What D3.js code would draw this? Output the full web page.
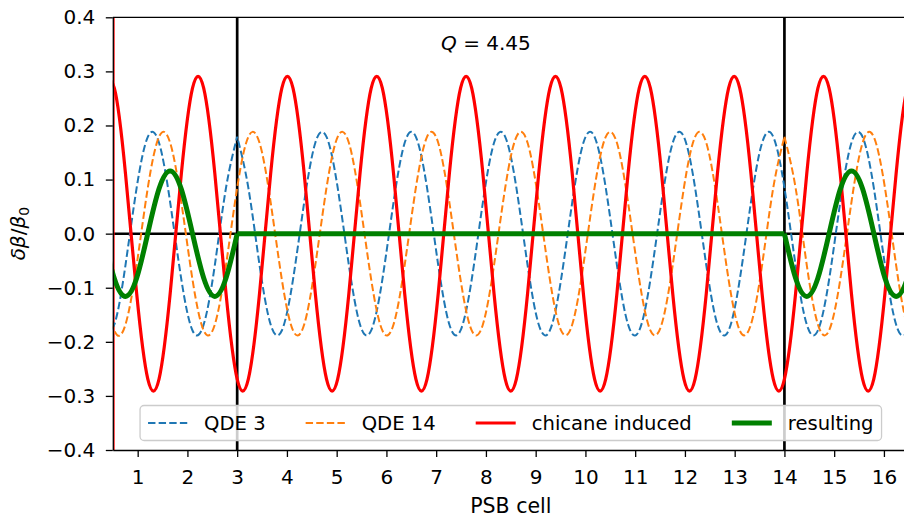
<!DOCTYPE html>
<html>
<head>
<meta charset="utf-8">
<title>beta beating</title>
<script src="https://cdn.jsdelivr.net/npm/d3@7"></script>
<style>
	body {
		margin: 0;
		background: #fff;
	}
	svg {
		display: block;
	}
	text {
		font-family: "DejaVu Sans", sans-serif;
		fill: #000;
	}
	.axis text {
		font-size: 20px;
	}
	.axis path,
	.axis line {
		stroke: #000;
		stroke-width: 1.3px;
	}
	.legend text {
		font-size: 19.6px;
	}
</style>
</head>
<body>
<svg id="chart" width="904" height="517"></svg>
<script>

//
// Data (one value per sample cell)
//

var cells = [
	0.306, 0.531, 0.755, 0.980, 1.204, 1.429, 1.653, 1.878, 2.102, 2.327, 2.551, 2.776,
	3, 3.224, 3.449, 3.673, 3.898, 4.122, 4.347, 4.571, 4.796, 5.020, 5.245, 5.469,
	5.694, 5.918, 6.143, 6.367, 6.592, 6.816, 7.041, 7.265, 7.490, 7.714, 7.939, 8.163,
	8.388, 8.612, 8.837, 9.061, 9.286, 9.510, 9.735, 9.959, 10.184, 10.408, 10.633, 10.857,
	11.082, 11.306, 11.531, 11.755, 11.980, 12.204, 12.429, 12.653, 12.878, 13.102, 13.327, 13.551,
	13.776, 14, 14.224, 14.449, 14.673, 14.898, 15.122, 15.347, 15.571, 15.796, 16.020, 16.245,
	16.469, 16.694
];

var qde3 = [
	-0.179, -0.168, -0.058, 0.085, 0.179, 0.168, 0.058, -0.085, -0.179, -0.168, -0.058, 0.085,
	0.179, 0.085, -0.058, -0.168, -0.179, -0.085, 0.058, 0.168,
	0.179, 0.085, -0.058, -0.168, -0.179, -0.085, 0.058, 0.168,
	0.179, 0.085, -0.058, -0.168, -0.179, -0.085, 0.058, 0.168,
	0.179, 0.085, -0.058, -0.168, -0.179, -0.085, 0.058, 0.168,
	0.179, 0.085, -0.058, -0.168, -0.179, -0.085, 0.058, 0.168,
	0.179, 0.085, -0.058, -0.168, -0.179, -0.085, 0.058, 0.168,
	0.179, 0.085, -0.058, -0.168, -0.179, -0.085, 0.058, 0.168,
	0.179, 0.085, -0.058, -0.168, -0.179, -0.085
];

var qde14 = [
	-0.085, -0.179, -0.168, -0.058, 0.085, 0.179, 0.168, 0.058, -0.085, -0.179, -0.168, -0.058,
	0.085,
	0.179, 0.168, 0.058, -0.085, -0.179, -0.168, -0.058, 0.085,
	0.179, 0.168, 0.058, -0.085, -0.179, -0.168, -0.058, 0.085,
	0.179, 0.168, 0.058, -0.085, -0.179, -0.168, -0.058, 0.085,
	0.179, 0.168, 0.058, -0.085, -0.179, -0.168, -0.058, 0.085,
	0.179, 0.168, 0.058, -0.085, -0.179, -0.168, -0.058, 0.085,
	0.179, 0.168, 0.058, -0.085, -0.179, -0.168, -0.058, 0.085,
	0.179, 0.085, -0.058, -0.168, -0.179, -0.085, 0.058, 0.168, 0.179, 0.085, -0.058, -0.168,
	-0.179
];

var chicane = [
	0.269, 0.269, 0.111, -0.111, -0.269, -0.269, -0.111, 0.111, 0.269, 0.269, 0.111, -0.111,
	-0.269, -0.269, -0.111, 0.111, 0.269, 0.269, 0.111, -0.111,
	-0.269, -0.269, -0.111, 0.111, 0.269, 0.269, 0.111, -0.111,
	-0.269, -0.269, -0.111, 0.111, 0.269, 0.269, 0.111, -0.111,
	-0.269, -0.269, -0.111, 0.111, 0.269, 0.269, 0.111, -0.111,
	-0.269, -0.269, -0.111, 0.111, 0.269, 0.269, 0.111, -0.111,
	-0.269, -0.269, -0.111, 0.111, 0.269, 0.269, 0.111, -0.111,
	-0.269, -0.269, -0.111, 0.111, 0.269, 0.269, 0.111, -0.111,
	-0.269, -0.269, -0.111, 0.111, 0.269, 0.269
];

var resulting = [
	-0.001, -0.083, -0.116, -0.082, 0.001, 0.083, 0.116, 0.082, 0.000, -0.082, -0.116, -0.082,
	0, 0, 0, 0, 0, 0, 0, 0, 0, 0,
	0, 0, 0, 0, 0, 0, 0, 0, 0, 0,
	0, 0, 0, 0, 0, 0, 0, 0, 0, 0,
	0, 0, 0, 0, 0, 0, 0, 0, 0, 0,
	0, 0, 0, 0, 0, 0, 0, 0, 0, 0,
	-0.082, -0.116, -0.082, 0.000, 0.082, 0.116, 0.083, 0.001, -0.082, -0.116, -0.083, -0.001
];

var labels = ["QDE 3", "QDE 14", "chicane induced", "resulting"];
var errorCells = [3, 14];       // quadrupole error locations (kinks)
var xTicks = d3.range(1, 17);
var yTicks = [-0.4, -0.3, -0.2, -0.1, 0, 0.1, 0.2, 0.3, 0.4];
var tuneLabel = "4.45";

//
// Series setup
//

var series = [
	{ name: labels[0], values: qde3, breaks: [errorCells[0]], color: "#1f77b4", width: 2, dash: "7.4,3.2" },
	{ name: labels[1], values: qde14, breaks: [errorCells[1]], color: "#ff7f0e", width: 2, dash: "7.4,3.2" },
	{ name: labels[2], values: chicane, breaks: [], color: "#ff0000", width: 3.2, dash: null },
	{ name: labels[3], values: resulting, breaks: errorCells, color: "#008000", width: 5, dash: null }
];

// split a series into smooth pieces at its kinks
function segmentsOf(values, breaks) {
	var segs = [[]];
	cells.forEach(function(c, i) {
		var p = [c, values[i]];
		segs[segs.length - 1].push(p);
		if (breaks.indexOf(c) >= 0) segs.push([p]);
	});
	return segs.filter(function(s) { return s.length > 1; });
}

//
// Draw svg
//

var svg = d3.select("#chart");

var x = d3.scaleLinear()
	.domain([0.5, 16.5])
	.range([112.8, 908.8]);
var y = d3.scaleLinear()
	.domain([-0.4, 0.4])
	.range([450, 17.3]);

svg.append("defs").append("clipPath")
	.attr("id", "plotClip")
	.append("rect")
		.attr("x", x(0.5))
		.attr("y", y(0.4))
		.attr("width", x(16.5) - x(0.5))
		.attr("height", y(-0.4) - y(0.4));

// Reference lines
var refG = svg.append("g").attr("clip-path", "url(#plotClip)");
refG.append("line")
	.attr("x1", x(0.5)).attr("x2", x(16.5))
	.attr("y1", y(0)).attr("y2", y(0))
	.attr("stroke", "#000").attr("stroke-width", 2.5);
errorCells.forEach(function(c) {
	refG.append("line")
		.attr("x1", x(c)).attr("x2", x(c))
		.attr("y1", y(0.4)).attr("y2", y(-0.4))
		.attr("stroke", "#000").attr("stroke-width", 2.7);
});

// Curves
var line = d3.line()
	.x(function(d) { return x(d[0]); })
	.y(function(d) { return y(d[1]); })
	.curve(d3.curveNatural);

var curveG = svg.append("g").attr("clip-path", "url(#plotClip)");

curveG.append("line")
	.attr("x1", x(0.5) + 1.2).attr("x2", x(0.5) + 1.2)
	.attr("y1", y(0.4)).attr("y2", y(-0.4))
	.attr("stroke", "#ff0000").attr("stroke-width", 1.3);

series.forEach(function(s) {
	var offset = 0;
	segmentsOf(s.values, s.breaks).forEach(function(seg) {
		var path = curveG.append("path")
			.datum(seg)
			.attr("d", line)
			.attr("fill", "none")
			.attr("stroke", s.color)
			.attr("stroke-width", s.width)
			.attr("stroke-linejoin", "round");
		if (s.dash) {
			path.attr("stroke-dasharray", s.dash)
				.attr("stroke-dashoffset", -offset);
			offset += path.node().getTotalLength();
		}
	});
});

// Axes
svg.append("g")
	.attr("class", "axis")
	.attr("transform", "translate(0," + y(-0.4) + ")")
	.call(d3.axisBottom(x).tickValues(xTicks).tickFormat(d3.format("d"))
		.tickSize(7).tickSizeOuter(0).tickPadding(12.5));

svg.append("g")
	.attr("class", "axis")
	.attr("transform", "translate(" + x(0.5) + ",0)")
	.call(d3.axisLeft(y).tickValues(yTicks).tickFormat(d3.format(".1f"))
		.tickSize(7).tickSizeOuter(0).tickPadding(10.5));

svg.selectAll(".axis text").attr("fill", "#000");

svg.append("line")
	.attr("x1", x(0.5)).attr("x2", x(16.5))
	.attr("y1", y(0.4)).attr("y2", y(0.4))
	.attr("stroke", "#000").attr("stroke-width", 1.3);

// Title and axis labels
var title = svg.append("text")
	.attr("x", x(8))
	.attr("y", y(0.339))
	.attr("text-anchor", "middle")
	.style("font-size", "20px");
title.append("tspan").attr("font-style", "italic").text("Q");
title.append("tspan").text("\u00a0=\u00a0" + tuneLabel);

svg.append("text")
	.attr("x", x(8.5))
	.attr("y", 513)
	.attr("text-anchor", "middle")
	.style("font-size", "20.5px")
	.text("PSB cell");

var yLabel = svg.append("text")
	.attr("transform", "translate(25," + y(0) + ") rotate(-90)")
	.attr("text-anchor", "middle")
	.style("font-size", "20px");
yLabel.append("tspan").attr("font-style", "italic").text("\u03b4\u03b2");
yLabel.append("tspan").text("/");
yLabel.append("tspan").attr("font-style", "italic").text("\u03b2");
yLabel.append("tspan").attr("dy", 4).style("font-size", "14px").text("0");

// Legend
var legend = svg.append("g").attr("class", "legend");
var box = legend.append("rect")
	.attr("rx", 4)
	.attr("fill", "#fff")
	.attr("fill-opacity", 0.8)
	.attr("stroke", "#ccc")
	.attr("stroke-width", 1.3);

var legendH = 35;
var legendBottom = y(-0.4) - 9.5;
var midY = legendBottom - legendH / 2;
var cursor = 0;
var items = [];
series.forEach(function(s, i) {
	var g = legend.append("g");
	g.append("line")
		.attr("x1", cursor).attr("x2", cursor + 40)
		.attr("y1", midY).attr("y2", midY)
		.attr("stroke", s.color)
		.attr("stroke-width", s.width)
		.attr("stroke-dasharray", s.dash);
	var t = g.append("text")
		.attr("x", cursor + 56)
		.attr("y", midY)
		.attr("dy", "0.36em")
		.text(s.name);
	cursor += 56 + t.node().getComputedTextLength() + (i < series.length - 1 ? 40 : 0);
	items.push(g);
});
var legendW = cursor + 16;
var legendX = (x(0.5) + x(16.5)) / 2 - legendW / 2;
items.forEach(function(g) {
	g.attr("transform", "translate(" + (legendX + 8) + ",0)");
});
box.attr("x", legendX)
	.attr("y", legendBottom - legendH)
	.attr("width", legendW)
	.attr("height", legendH);

</script>
</body>
</html>
